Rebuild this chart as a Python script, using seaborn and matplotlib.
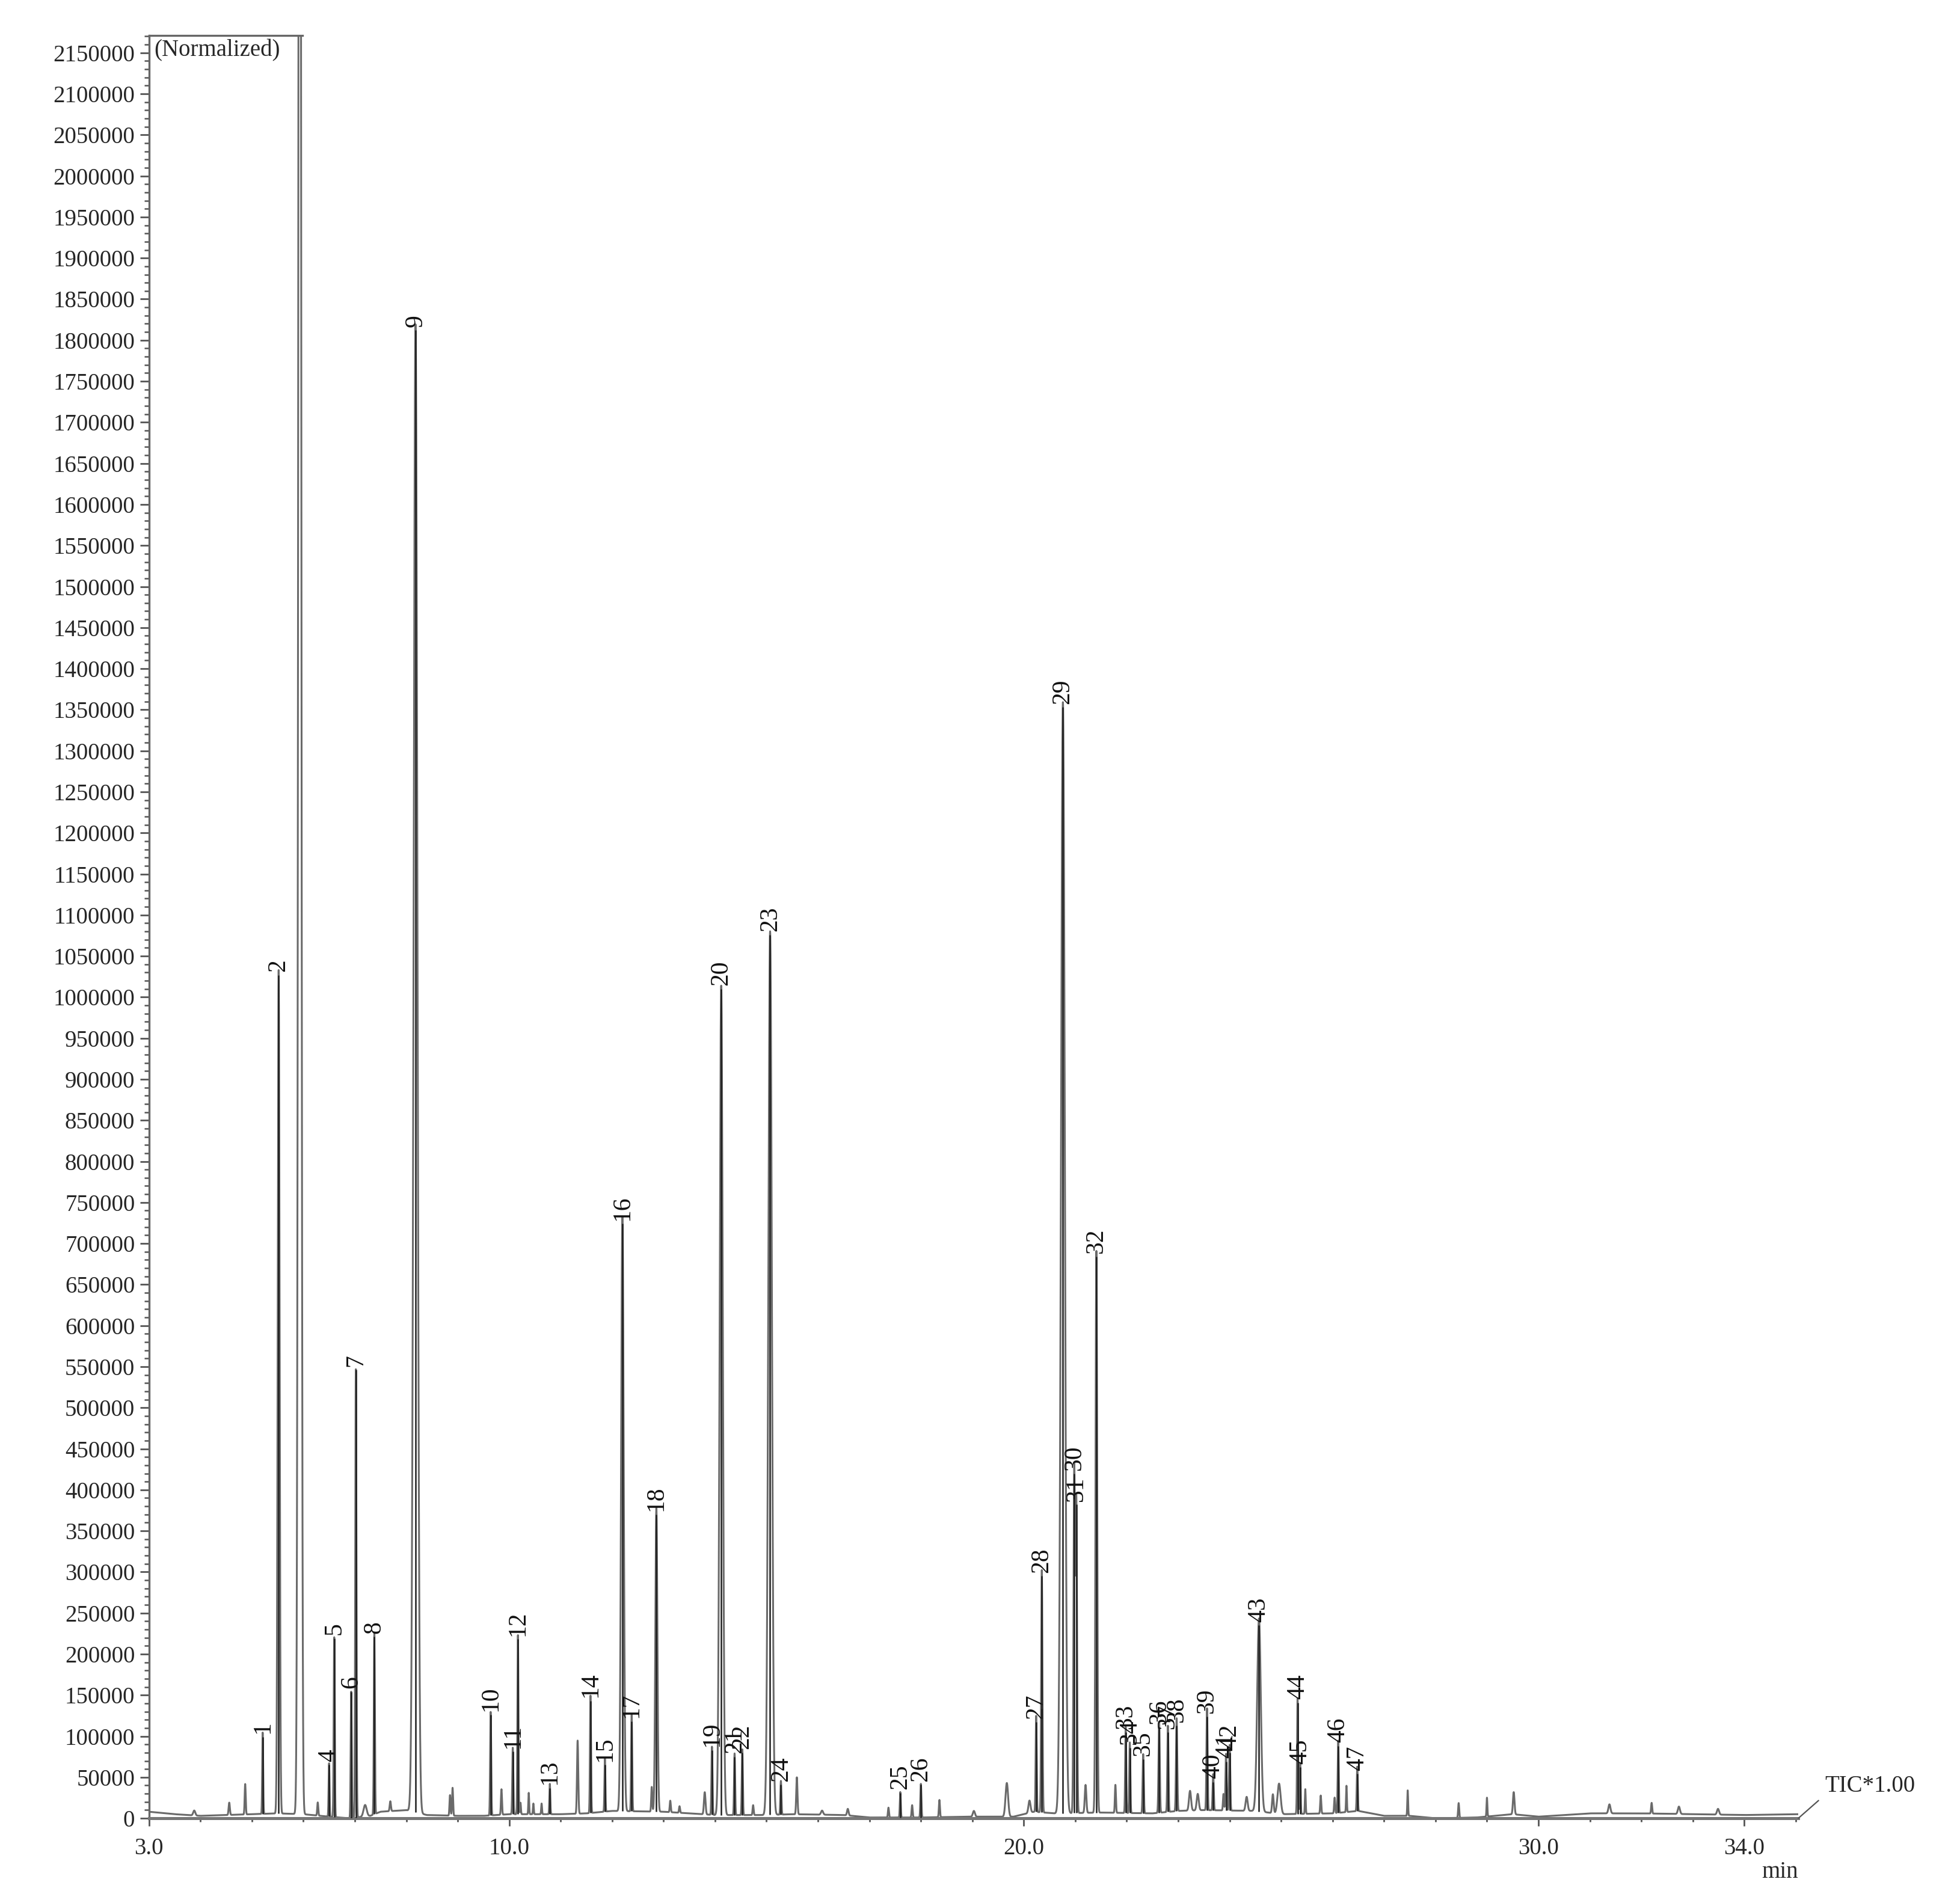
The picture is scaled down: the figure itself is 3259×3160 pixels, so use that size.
import numpy as np
import pandas as pd
import seaborn as sns
import matplotlib.pyplot as plt
from matplotlib.ticker import MultipleLocator, FixedLocator, FuncFormatter

# labelled peaks: retention time (min), height (intensity), peak sd (min)
peak_labels = [str(i) for i in range(1, 48)]
peak_rt = [5.21, 5.52, 5.93, 6.50, 6.60, 6.93, 7.02, 7.38, 8.18, 9.64,
           10.07, 10.17, 10.79, 11.58, 11.86, 12.20, 12.38, 12.86, 13.94, 14.12,
           14.38, 14.53, 15.07, 15.28, 17.60, 18.00, 20.24, 20.35, 20.76, 20.98,
           21.02, 21.41, 21.98, 22.06, 22.32, 22.63, 22.80, 22.97, 23.56, 23.68,
           23.93, 24.00, 24.57, 25.32, 25.37, 26.11, 26.48]
peak_height = [99000, 1027000, 3600000, 65000, 219000, 154000, 546000, 221000, 1812000, 126000,
               81000, 218000, 37000, 143000, 65000, 724000, 118000, 370000, 83000, 1010000,
               75000, 80000, 1076000, 41000, 31000, 41000, 117000, 295000, 1353000, 420000,
               382000, 684000, 105000, 86000, 72000, 111000, 105000, 113000, 124000, 44000,
               69000, 80000, 235000, 141000, 62000, 88000, 54000]
peak_sd = [0.009, 0.018, 0.025, 0.009, 0.010, 0.010, 0.011, 0.010, 0.037, 0.010,
           0.010, 0.010, 0.009, 0.010, 0.009, 0.025, 0.010, 0.020, 0.010, 0.030,
           0.010, 0.010, 0.034, 0.010, 0.009, 0.010, 0.010, 0.012, 0.037, 0.014,
           0.014, 0.016, 0.010, 0.010, 0.011, 0.012, 0.011, 0.012, 0.011, 0.011,
           0.011, 0.011, 0.035, 0.010, 0.009, 0.010, 0.010]

# unlabelled minor peaks
minor_rt = [3.88, 4.56, 4.87, 6.28, 7.20, 7.69, 8.85, 8.90, 9.85, 10.22,
            10.38, 10.47, 10.63, 11.33, 12.77, 13.13, 13.31, 13.80, 14.74, 15.59,
            16.08, 16.58, 17.37, 17.83, 18.36, 19.03, 19.67, 20.11, 21.20, 21.78,
            23.23, 23.38, 23.88, 24.33, 24.84, 24.96, 25.47, 25.77, 26.04, 26.27,
            27.46, 28.45, 29.00, 29.52, 31.38, 32.20, 32.73, 33.49]
minor_height = [6000, 15000, 37000, 16000, 14000, 12000, 25000, 34000, 31000, 14000,
                26000, 13000, 13000, 89000, 30000, 14000, 8000, 27000, 12000, 45000,
                5000, 8000, 12000, 15000, 21000, 7000, 41000, 15000, 34000, 34000,
                24000, 20000, 20000, 17000, 23000, 37000, 30000, 22000, 19000, 32000,
                31000, 18000, 23000, 27000, 11000, 13000, 9000, 7000]
minor_sd = [0.02, 0.012, 0.010, 0.010, 0.03, 0.012, 0.01, 0.010, 0.010, 0.008,
            0.008, 0.008, 0.008, 0.012, 0.010, 0.010, 0.010, 0.015, 0.010, 0.012,
            0.02, 0.015, 0.010, 0.010, 0.010, 0.02, 0.025, 0.02, 0.015, 0.010,
            0.02, 0.02, 0.010, 0.02, 0.015, 0.03, 0.008, 0.010, 0.010, 0.008,
            0.008, 0.010, 0.008, 0.015, 0.02, 0.010, 0.02, 0.02]

# baseline drift
base_t = [3.0, 3.5, 4.0, 4.5, 5.0, 5.5, 6.0, 6.5, 6.9, 7.3, 7.5, 8.0, 8.4, 9.0, 9.5,
          10.0, 11.0, 11.5, 12.0, 13.0, 13.5, 14.0, 15.0, 15.5, 16.5, 17.0, 18.0, 19.0,
          19.8, 20.2, 20.6, 21.5, 22.5, 23.0, 23.5, 24.5, 25.0, 26.0, 26.5, 27.0, 27.5,
          28.0, 28.8, 29.5, 30.0, 31.0, 32.0, 33.0, 34.0, 35.0]
base_v = [8000, 5000, 3000, 4000, 5000, 6000, 5000, 2000, 0, 3000, 8000, 10000, 4000, 3000, 3000,
          5000, 5000, 6000, 9000, 8000, 6000, 4000, 4000, 5000, 4000, 1000, 1000, 2000,
          2000, 8000, 6000, 7000, 6000, 9000, 10000, 9000, 5000, 6000, 9000, 3000, 3000,
          0, 1000, 5000, 2000, 6000, 6000, 5000, 4000, 5000]

x_start, x_end = 3.0, 35.05
y_top = 2171000

t = np.arange(x_start, x_end, 0.002)
signal = np.interp(t, base_t, base_v).astype(float)
for rt, h, sd in zip(peak_rt + minor_rt, peak_height + minor_height, peak_sd + minor_sd):
    signal += h * np.exp(-0.5 * ((t - rt) / sd) ** 2)
tic = pd.DataFrame({'time': t, 'intensity': signal})

sns.set_style('ticks')
plt.rcParams['font.family'] = ['Liberation Serif', 'DejaVu Serif']
plt.rcParams['font.size'] = 14

fig = plt.figure(figsize=(16.295, 15.8), dpi=200)
ax = fig.add_axes([0.076, 0.043, 0.8415, 0.9383])

sns.lineplot(data=tic, x='time', y='intensity', estimator=None, sort=False,
             color='#6a6a6a', lw=1.1, ax=ax)

# peak top markers + numbers
base_at_peak = np.interp(peak_rt, base_t, base_v)
for lab, rt, h, b in zip(peak_labels, peak_rt, peak_height, base_at_peak):
    if h >= y_top:
        continue
    ax.vlines(rt, b, h, color='#1e1e1e', lw=0.9, zorder=3)
    ax.annotate(lab, (rt, h), xytext=(0, 2), textcoords='offset points',
                rotation=90, ha='center', va='bottom', fontsize=15, color='#111')

ax.set_xlim(x_start, x_end)
ax.set_ylim(0, y_top)

ax.xaxis.set_major_locator(FixedLocator([3, 10, 20, 30, 34]))
ax.xaxis.set_major_formatter(FuncFormatter(lambda v, p: f'{v:.1f}'))
ax.xaxis.set_minor_locator(MultipleLocator(1))
ax.yaxis.set_major_locator(MultipleLocator(50000))
ax.yaxis.set_minor_locator(MultipleLocator(10000))
ax.yaxis.set_major_formatter(FuncFormatter(lambda v, p: f'{int(round(v))}'))

ax.tick_params(axis='x', which='major', length=4.5, width=1.0, pad=7, color='#555', labelsize=14)
ax.tick_params(axis='x', which='minor', length=2.2, width=1.0, color='#555')
ax.tick_params(axis='y', which='major', length=5.4, width=1.0, pad=3, color='#555', labelsize=14)
ax.tick_params(axis='y', which='minor', length=2.8, width=0.9, color='#555')

ax.set_xlabel('')
ax.set_ylabel('')
ax.spines['right'].set_visible(False)
ax.spines['top'].set_bounds(x_start, peak_rt[2] + peak_sd[2] * 2)
ax.spines['top'].set_color('#666')
ax.spines['top'].set_linewidth(1.2)
ax.spines['left'].set_color('#666')
ax.spines['left'].set_linewidth(1.2)
ax.spines['bottom'].set_color('#777')
ax.spines['bottom'].set_linewidth(1.8)

ax.text(0.003, 0.998, '(Normalized)', transform=ax.transAxes, ha='left', va='top', fontsize=14)
ax.text(0.989, -0.030, 'min', transform=ax.transAxes, ha='center', va='center', fontsize=14)
ax.annotate('TIC*1.00', xy=(1.0, 0.0), xycoords='axes fraction',
            xytext=(1.016, 0.018), textcoords='axes fraction', ha='left', va='center',
            fontsize=14, annotation_clip=False,
            arrowprops=dict(arrowstyle='-', color='#555', lw=0.8, relpos=(0, 0.1),
                            shrinkA=2, shrinkB=0))

fig.savefig('out.png', dpi=200)
